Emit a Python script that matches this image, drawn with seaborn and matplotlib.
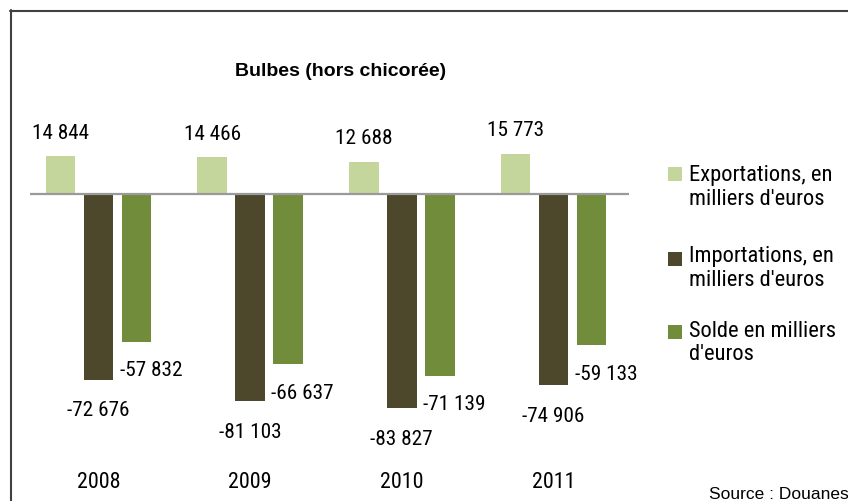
import matplotlib
matplotlib.use("Agg")
import matplotlib.pyplot as plt
import matplotlib.font_manager as fm
from matplotlib.font_manager import FontProperties
from matplotlib.patches import Rectangle
from matplotlib.lines import Line2D
import seaborn as sns
import pandas as pd

# ---- data ----
years = ["2008", "2009", "2010", "2011"]
exportations = [14844, 14466, 12688, 15773]
importations = [-72676, -81103, -83827, -74906]
solde = [-57832, -66637, -71139, -59133]
series = ["Exportations, en milliers d'euros",
          "Importations, en milliers d'euros",
          "Solde en milliers d'euros"]
legend_lines = [["Exportations, en", "milliers d'euros"],
                ["Importations, en", "milliers d'euros"],
                ["Solde en milliers", "d'euros"]]
colors = ["#c4d69c", "#4d472c", "#718c3b"]
title = "Bulbes (hors chicorée)"
source = "Source : Douanes"

sns.set_theme(style="white")
plt.rcParams["font.family"] = ["Liberation Sans", "DejaVu Sans"]

# ---- pick a narrow font if one is installed ----
def pick_narrow():
    prefs = ["Liberation Sans Narrow", "Arial Narrow", "Roboto Condensed",
             "Open Sans Condensed", "Noto Sans Condensed"]
    regular = [f for f in fm.fontManager.ttflist
               if f.style == "normal" and f.weight in (400, "normal", "regular")]
    for p in prefs:
        for f in regular:
            if f.name == p:
                return FontProperties(fname=f.fname)
    for fam in ["Roboto", "Open Sans", "Noto Sans", "Liberation Sans"]:
        for f in regular:
            if f.name == fam and str(f.stretch) in ("condensed", "semi-condensed",
                                                     "extra-condensed", "75", "87.5"):
                return FontProperties(fname=f.fname)
    for f in regular:
        if "Condensed" in f.name or "Narrow" in f.name:
            return FontProperties(fname=f.fname)
    return FontProperties(family="Liberation Sans")

NFP = pick_narrow()

W, H = 848, 502
fig = plt.figure(figsize=(W / 100, H / 100), dpi=100)
fig.patch.set_facecolor("white")
renderer = fig.canvas.get_renderer()

def size_for(text, target_px, fp):
    t = fig.text(0, 0, text, fontproperties=fp.copy())
    t.set_fontsize(10)
    w = t.get_window_extent(renderer).width
    t.remove()
    return 10 * target_px / w

NUM_SIZE = size_for("14 466", 57, NFP)
LEG_SIZE = size_for("Exportations, en", 142, NFP)
YEAR_SIZE = size_for("2008", 43, NFP)

def fx(px):
    return px / W

def fy(py):
    return 1 - py / H

ax = fig.add_axes([fx(30), fy(470), (629 - 30) / W, (470 - 100) / H])

df = pd.DataFrame({
    "year": years * 3,
    "serie": [series[0]] * 4 + [series[1]] * 4 + [series[2]] * 4,
    "value": exportations + importations + solde,
})

sns.barplot(data=df, x="year", y="value", hue="serie", hue_order=series,
            order=years, palette=colors, saturation=1, width=0.75, gap=0.22,
            linewidth=0, legend=False, ax=ax)

ax.set_xlim(-0.4516, 3.498)
ax.set_ylim(-107630, 37180)
ax.axhline(0, color="#9a9a9a", lw=1.6, zorder=5)
for s in ax.spines.values():
    s.set_visible(False)
ax.set_yticks([])
ax.set_xlabel("")
ax.set_ylabel("")
ax.tick_params(axis="x", length=0, pad=1.5, colors="black")
for lab in ax.get_xticklabels():
    lab.set_fontproperties(NFP.copy())
    lab.set_fontsize(YEAR_SIZE)
ax.patch.set_alpha(0)

def fmt(v):
    s = f"{abs(v):,}".replace(",", " ")
    return ("-" if v < 0 else "") + s

offsets = [(0, 17.3), (0, -21.6), (10.5, -20.2)]
for cont, vals, (dx, dy) in zip(ax.containers, [exportations, importations, solde], offsets):
    for bar, v in zip(cont, vals):
        x = bar.get_x() + bar.get_width() / 2
        a = ax.annotate(fmt(v), (x, v), xytext=(dx, dy), textcoords="offset points",
                        ha="center", va="center", fontproperties=NFP.copy(),
                        color="black")
        a.set_fontsize(NUM_SIZE)

# title
fig.text(fx(341), fy(72), title, ha="center", va="center", fontsize=14,
         fontweight="bold", color="black")

# legend (Excel-like: marker aligned with first line)
sq = 14
square_centers = [175, 260, 333]
baselines = [(181, 205), (262, 286), (337, 360)]
for col, cy, lines, bl in zip(colors, square_centers, legend_lines, baselines):
    fig.add_artist(Rectangle((fx(668), fy(cy + sq / 2)), sq / W, sq / H,
                             transform=fig.transFigure, facecolor=col,
                             edgecolor="none"))
    for line, b in zip(lines, bl):
        t = fig.text(fx(689), fy(b), line, ha="left", va="baseline",
                     fontproperties=NFP.copy(), color="black")
        t.set_fontsize(LEG_SIZE)

# source
fig.text(fx(849), fy(499), source, ha="right", va="baseline", fontsize=12.5,
         color="black")

# frame (top and left border)
fig.add_artist(Line2D([fx(10), fx(848)], [fy(11.5), fy(11.5)],
                      transform=fig.transFigure, color="#404040", lw=1.5))
fig.add_artist(Line2D([fx(10.5), fx(10.5)], [fy(11), fy(502)],
                      transform=fig.transFigure, color="#404040", lw=1.5))

fig.savefig("out.png", dpi=100)
